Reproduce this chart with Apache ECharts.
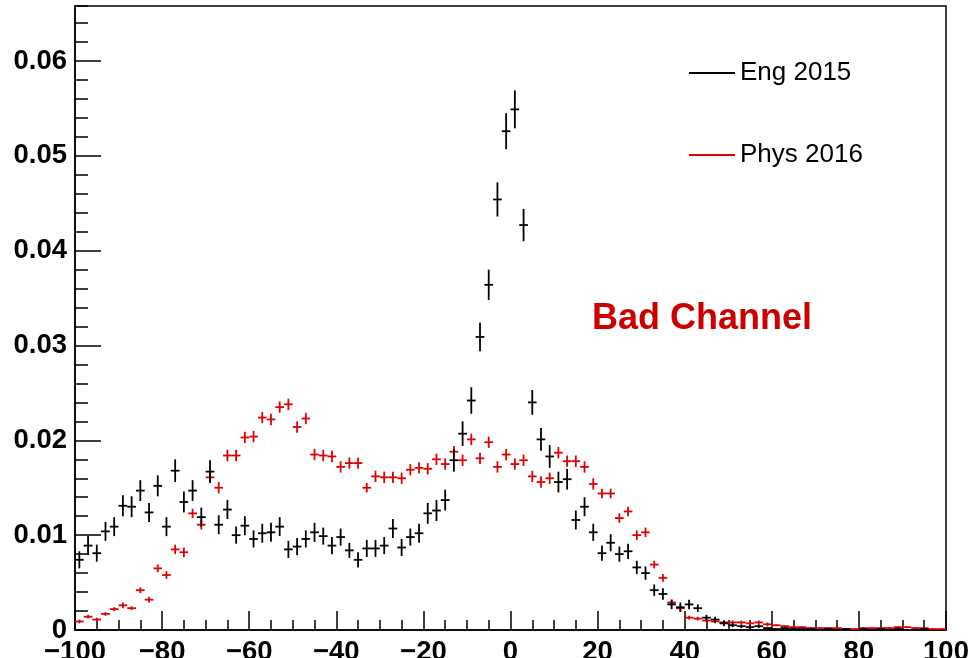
<!DOCTYPE html>
<html>
<head>
<meta charset="utf-8">
<script src="https://cdn.jsdelivr.net/npm/echarts@6/dist/echarts.min.js"></script>
<style>
html,body{margin:0;padding:0;background:#fff;}
#chart{width:973px;height:658px;}
</style>
</head>
<body>
<div id="chart"></div>
<script>
const binCenters = [
  -99,-97,-95,-93,-91,-89,-87,-85,-83,-81,
  -79,-77,-75,-73,-71,-69,-67,-65,-63,-61,
  -59,-57,-55,-53,-51,-49,-47,-45,-43,-41,
  -39,-37,-35,-33,-31,-29,-27,-25,-23,-21,
  -19,-17,-15,-13,-11,-9,-7,-5,-3,-1,
  1,3,5,7,9,11,13,15,17,19,
  21,23,25,27,29,31,33,35,37,39,
  41,43,45,47,49,51,53,55,57,59,
  61,63,65,67,69,71,73,75,77,79,
  81,83,85,87,89,91,93,95,97,99
];
const binWidth = 2;

const seriesNames = ['Eng 2015', 'Phys 2016'];

const eng2015 = [
  0.0074,0.0089,0.0081,0.0104,0.0109,0.0131,0.0130,0.0147,0.0124,0.0152,
  0.0109,0.0168,0.0135,0.0147,0.0119,0.0167,0.0111,0.0127,0.0100,0.0110,
  0.0096,0.0102,0.0103,0.0109,0.0085,0.0088,0.0096,0.0103,0.0099,0.0089,
  0.0098,0.0084,0.0074,0.0086,0.0086,0.0089,0.0107,0.0087,0.0098,0.0102,
  0.0123,0.0126,0.0137,0.0179,0.0207,0.0242,0.0309,0.0364,0.0454,0.0526,
  0.0549,0.0427,0.0240,0.0201,0.0183,0.0156,0.0159,0.0116,0.0130,0.0103,
  0.0081,0.0092,0.0080,0.0083,0.0066,0.0060,0.0042,0.0038,0.0027,0.0024,
  0.0027,0.0023,0.0013,0.0011,0.0007,0.0005,0.0004,0.0003,0.0004,0.0002,
  0.0001,0.0002,0.0001,0.0001,0.0001,0.0000,0.0001,0.0000,0.0001,0.0000,
  0.0001,0.0000,0.0001,0.0000,0.0001,0.0000,0.0000,0.0001,0.0000,0.0000
];
const eng2015Err = [
  0.0009,0.0010,0.0009,0.0010,0.0010,0.0011,0.0011,0.0011,0.0010,0.0011,
  0.0010,0.0012,0.0011,0.0011,0.0010,0.0012,0.0010,0.0010,0.0009,0.0010,
  0.0009,0.0010,0.0010,0.0010,0.0009,0.0009,0.0009,0.0010,0.0009,0.0009,
  0.0009,0.0008,0.0008,0.0009,0.0009,0.0009,0.0010,0.0009,0.0009,0.0010,
  0.0011,0.0011,0.0011,0.0012,0.0013,0.0014,0.0015,0.0016,0.0018,0.0019,
  0.0020,0.0017,0.0013,0.0012,0.0012,0.0011,0.0011,0.0010,0.0010,0.0009,
  0.0008,0.0009,0.0008,0.0008,0.0007,0.0007,0.0006,0.0006,0.0005,0.0005,
  0.0005,0.0004,0.0003,0.0003,0.0003,0.0002,0.0002,0.0002,0.0002,0.0001,
  0.0001,0.0001,0.0001,0.0001,0.0001,0.0001,0.0001,0.0001,0.0001,0.0001,
  0.0001,0.0001,0.0001,0.0001,0.0001,0.0001,0.0001,0.0001,0.0001,0.0001
];
const phys2016 = [
  0.0009,0.0014,0.0011,0.0017,0.0022,0.0026,0.0023,0.0042,0.0032,0.0065,
  0.0058,0.0085,0.0082,0.0123,0.0111,0.0161,0.0150,0.0184,0.0184,0.0203,
  0.0204,0.0224,0.0222,0.0235,0.0238,0.0214,0.0223,0.0185,0.0184,0.0183,
  0.0172,0.0176,0.0176,0.0150,0.0162,0.0161,0.0161,0.0160,0.0169,0.0171,
  0.0170,0.0180,0.0175,0.0188,0.0179,0.0201,0.0181,0.0198,0.0172,0.0185,
  0.0175,0.0179,0.0162,0.0156,0.0160,0.0187,0.0178,0.0178,0.0172,0.0154,
  0.0144,0.0144,0.0118,0.0125,0.0100,0.0103,0.0069,0.0055,0.0029,0.0023,
  0.0013,0.0012,0.0010,0.0009,0.0008,0.0008,0.0008,0.0007,0.0008,0.0006,
  0.0005,0.0004,0.0003,0.0003,0.0002,0.0002,0.0002,0.0002,0.0001,0.0001,
  0.0002,0.0002,0.0002,0.0002,0.0003,0.0003,0.0002,0.0002,0.0001,0.0001
];
const phys2016Err = [
  0.0002,0.0002,0.0002,0.0002,0.0002,0.0003,0.0002,0.0003,0.0003,0.0004,
  0.0004,0.0005,0.0005,0.0005,0.0005,0.0006,0.0006,0.0006,0.0006,0.0006,
  0.0006,0.0006,0.0006,0.0006,0.0006,0.0006,0.0006,0.0006,0.0006,0.0006,
  0.0006,0.0006,0.0006,0.0005,0.0006,0.0006,0.0006,0.0006,0.0006,0.0006,
  0.0006,0.0006,0.0006,0.0006,0.0006,0.0006,0.0006,0.0006,0.0006,0.0006,
  0.0006,0.0006,0.0006,0.0006,0.0006,0.0006,0.0006,0.0006,0.0006,0.0006,
  0.0005,0.0005,0.0005,0.0005,0.0005,0.0005,0.0004,0.0004,0.0003,0.0003,
  0.0002,0.0002,0.0002,0.0002,0.0002,0.0002,0.0002,0.0002,0.0002,0.0002,
  0.0001,0.0001,0.0001,0.0001,0.0001,0.0001,0.0001,0.0001,0.0001,0.0001,
  0.0001,0.0001,0.0001,0.0001,0.0001,0.0001,0.0001,0.0001,0.0001,0.0001
];

const xTicks = [-100, -80, -60, -40, -20, 0, 20, 40, 60, 80, 100];
const yTicks = [0, 0.01, 0.02, 0.03, 0.04, 0.05, 0.06];
const annotation = 'Bad Channel';

const FONT = "'Liberation Sans', Arial, Helvetica, sans-serif";

function toRows(vals, errs) {
  return binCenters.map((c, i) => [c, vals[i], errs[i]]);
}

function makeRender(color) {
  return function (params, api) {
    const x = api.value(0), y = api.value(1), e = api.value(2);
    if (!(y > 0)) return null;
    const c = api.coord([x, y]);
    const lo = api.coord([x, Math.max(0, y - e)]);
    const hi = api.coord([x, y + e]);
    const l = api.coord([x - binWidth / 2, y]);
    const r = api.coord([x + binWidth / 2, y]);
    const st = { stroke: color, lineWidth: 1.8 };
    return {
      type: 'group',
      children: [
        { type: 'line', shape: { x1: c[0], y1: lo[1], x2: c[0], y2: hi[1] }, style: st },
        { type: 'line', shape: { x1: l[0], y1: c[1], x2: r[0], y2: c[1] }, style: st }
      ]
    };
  };
}

const chart = echarts.init(document.getElementById('chart'), null, { renderer: 'canvas' });
const yMax = 0.0658;

const option = {
  animation: false,
  backgroundColor: '#fff',
  grid: {
    left: 75, right: 27, top: 6, bottom: 28,
    outerBoundsMode: 'none', containLabel: false,
    show: true, borderColor: '#000', borderWidth: 1.5, backgroundColor: 'transparent'
  },
  legend: {
    orient: 'vertical',
    left: 684, top: 55,
    itemWidth: 46, itemHeight: 2, itemGap: 56,
    textStyle: { fontSize: 26, fontFamily: FONT, color: '#000', padding: [0, 0, 0, 0] },
    data: [
      { name: seriesNames[0], icon: 'path://M0 0H46V2H0Z' },
      { name: seriesNames[1], icon: 'path://M0 0H46V2H0Z' }
    ]
  },
  xAxis: {
    type: 'value', min: xTicks[0], max: xTicks[xTicks.length - 1], interval: 20,
    splitLine: { show: false },
    axisLine: { show: true, onZero: false, lineStyle: { color: '#000', width: 1.5 } },
    axisTick: { show: true, inside: true, length: 19, lineStyle: { color: '#000', width: 1.5 } },
    minorTick: { show: true, splitNumber: 4, length: 10, lineStyle: { color: '#000', width: 1.5 } },
    axisLabel: {
      show: true, margin: 8, color: '#000', fontSize: 27.5, fontWeight: 'bold', fontFamily: FONT,
      showMinLabel: true, showMaxLabel: true, hideOverlap: false,
      formatter: v => String(v).replace('-', '\u2212')
    }
  },
  yAxis: [
    {
      type: 'value', min: 0, max: yMax, interval: 0.01, position: 'left',
      splitLine: { show: false },
      axisLine: { show: true, onZero: false, lineStyle: { color: '#000', width: 1.5 } },
      axisTick: { show: true, inside: true, length: 26, lineStyle: { color: '#000', width: 1.5 } },
      axisLabel: {
        show: true, margin: 8, color: '#000', fontSize: 27.5, fontWeight: 'bold', fontFamily: FONT,
        showMaxLabel: false,
        formatter: v => {
          const t = yTicks.find(k => Math.abs(k - v) < 1e-9);
          if (t === undefined) return '';
          return t === 0 ? '0' : t.toFixed(2);
        }
      }
    },
    {
      type: 'value', min: 0, max: yMax, interval: 0.002, position: 'left',
      splitLine: { show: false },
      axisLine: { show: false, onZero: false },
      axisTick: { show: true, inside: true, length: 13, lineStyle: { color: '#000', width: 1.5 } },
      axisLabel: { show: false }
    }
  ],
  graphic: [
    {
      type: 'text', left: 592, top: 301, z: 100,
      style: { text: annotation, fill: '#cc0000', font: "bold 36px " + FONT }
    }
  ],
  series: [
    {
      name: seriesNames[1], type: 'custom', xAxisIndex: 0, yAxisIndex: 0, clip: true,
      itemStyle: { color: '#e00000' },
      renderItem: makeRender('#e00000'),
      encode: { x: 0, y: 1 },
      data: toRows(phys2016, phys2016Err)
    },
    {
      name: seriesNames[0], type: 'custom', xAxisIndex: 0, yAxisIndex: 0, clip: true,
      itemStyle: { color: '#000' },
      renderItem: makeRender('#000'),
      encode: { x: 0, y: 1 },
      data: toRows(eng2015, eng2015Err)
    }
  ]
};
chart.setOption(option);
</script>
</body>
</html>
